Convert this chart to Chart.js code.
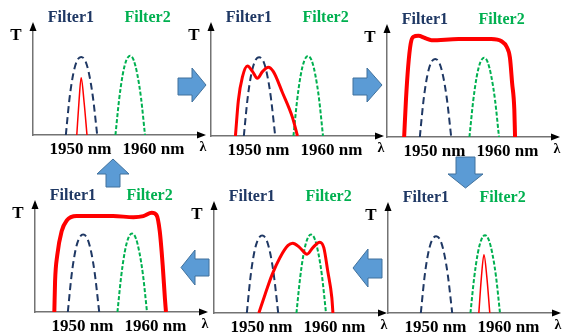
<!DOCTYPE html>
<html>
<head>
<meta charset="utf-8">
<script src="https://cdn.jsdelivr.net/npm/chart.js@4.4.0/dist/chart.umd.min.js"></script>
<style>
  body { margin:0; background:#fff; }
  #wrap { position:relative; width:567px; height:335px; overflow:hidden; }
  #wrap canvas { position:absolute; }
  #arrows { position:absolute; left:0; top:0; z-index:5; }
</style>
</head>
<body>
<div id="wrap">
<svg id="arrows" width="567" height="335">
  <g fill="#5b9bd5" stroke="#41719c" stroke-width="1">
    <polygon points="178,78 192,78 192,68 206,85 192,102 192,95 178,95"/>
    <polygon points="353,78 367,78 367,68 382,85 367,102 367,95 353,95"/>
    <polygon points="456,157 475,157 475,174 483,174 465.5,188 448,174 456,174"/>
    <polygon points="382,259 368,259 368,249 353,268 368,287 368,278 382,278"/>
    <polygon points="209,259 195,259 195,250 181,267.5 195,285 195,276 209,276"/>
    <polygon points="113,159 129,174 120,174 120,187 106,187 106,174 97,174"/>
  </g>
</svg>
</div>
<script>
// wavelength axis (nm) and ticks
var xMin = 1943.5, xMax = 1966.8;
var tickNm = [1950, 1960];
var tickLabels = ['1950 nm', '1960 nm'];
var filterNames = ['Filter1', 'Filter2'];
var filterLabelNm = [1948.7, 1959.2];

// filter transmission curves (same in every panel)
var filter1Nm = [1948.0, 1948.5, 1949.0, 1949.5, 1950.1, 1950.7, 1951.2, 1951.7, 1952.3];
var filter1T  = [0, 0.33, 0.55, 0.67, 0.71, 0.67, 0.55, 0.35, 0];
var filter2Nm = [1954.8, 1955.3, 1955.8, 1956.3, 1956.8, 1957.3, 1957.8, 1958.3, 1958.85];
var filter2T  = [0, 0.32, 0.55, 0.68, 0.72, 0.68, 0.55, 0.34, 0];

// red spectrum in each panel
var redNm1 = [1949.5, 1949.8, 1950.1, 1950.5, 1950.9];
var redT1  = [0, 0.3, 0.52, 0.3, 0];
var redNm2 = [1946.85, 1947.25, 1947.8, 1948.5, 1949.2, 1949.85, 1950.55, 1951.35, 1952.05, 1953.3, 1954.65, 1955.35];
var redT2  = [0, 0.32, 0.53, 0.63, 0.58, 0.52, 0.58, 0.62, 0.58, 0.39, 0.17, 0];
var redNm3 = [1945.85, 1946.1, 1946.4, 1946.75, 1947.1, 1947.8, 1948.7, 1949.6, 1953.3, 1957.8, 1959.2, 1959.9, 1960.35, 1960.65, 1960.95, 1961.05];
var redT3  = [0, 0.34, 0.64, 0.85, 0.91, 0.92, 0.9, 0.88, 0.89, 0.89, 0.87, 0.82, 0.72, 0.49, 0.25, 0];
var redNm4 = [1946.15, 1946.25, 1946.55, 1947.15, 1947.85, 1949.2, 1951.5, 1954.2, 1957.0, 1958.35, 1959.5, 1960.15, 1960.6, 1961.0, 1961.3, 1961.45];
var redT4  = [0, 0.28, 0.52, 0.74, 0.84, 0.88, 0.88, 0.88, 0.87, 0.88, 0.91, 0.89, 0.74, 0.43, 0.13, 0];
var redNm5 = [1949.65, 1950.5, 1951.45, 1952.55, 1953.65, 1954.3, 1955.25, 1956.25, 1957.05, 1958.0, 1958.55, 1959.1, 1959.65, 1959.8];
var redT5  = [0, 0.17, 0.35, 0.51, 0.62, 0.64, 0.60, 0.54, 0.60, 0.65, 0.60, 0.38, 0.14, 0];
var redNm6 = [1955.95, 1956.3, 1956.65, 1957.05, 1957.45];
var redT6  = [0, 0.33, 0.54, 0.33, 0];

function pts(xs, ys) {
  return xs.map(function (x, i) { return { x: x, y: ys[i] }; });
}

// where each panel's axes sit on the page
var panels = [
  { left: 33,  top: 25,  bottom: 135, nm: redNm1, t: redT1, lw: 1.5 },
  { left: 211, top: 25,  bottom: 136, nm: redNm2, t: redT2, lw: 3 },
  { left: 387, top: 27,  bottom: 137, nm: redNm3, t: redT3, lw: 4 },
  { left: 35,  top: 203, bottom: 312, nm: redNm4, t: redT4, lw: 4 },
  { left: 214, top: 204, bottom: 313, nm: redNm5, t: redT5, lw: 3 },
  { left: 388, top: 205, bottom: 313, nm: redNm6, t: redT6, lw: 1.5 }
];
var axisLen = 170;
var serif = '"Liberation Serif", "Times New Roman", serif';

var deco = {
  id: 'deco',
  afterDraw: function (chart) {
    var ctx = chart.ctx, a = chart.chartArea, sx = chart.scales.x;
    ctx.save();
    ctx.fillStyle = '#000';
    ctx.beginPath();
    ctx.moveTo(a.left, a.top - 3);
    ctx.lineTo(a.left - 3.5, a.top + 6);
    ctx.lineTo(a.left + 3.5, a.top + 6);
    ctx.fill();
    ctx.beginPath();
    ctx.moveTo(a.right + 3, a.bottom);
    ctx.lineTo(a.right - 6, a.bottom - 3.5);
    ctx.lineTo(a.right - 6, a.bottom + 3.5);
    ctx.fill();
    ctx.textAlign = 'center';
    ctx.textBaseline = 'middle';
    ctx.font = 'bold 17px ' + serif;
    ctx.fillText('T', a.left - 17, a.top + 11);
    ctx.font = 'bold 14px ' + serif;
    ctx.fillText('\u03bb', a.right, a.bottom + 12);
    ctx.font = 'bold 16px ' + serif;
    ctx.fillStyle = '#1f3864';
    ctx.fillText(filterNames[0], sx.getPixelForValue(filterLabelNm[0]), a.top - 7);
    ctx.fillStyle = '#00b050';
    ctx.fillText(filterNames[1], sx.getPixelForValue(filterLabelNm[1]), a.top - 7);
    ctx.restore();
  }
};

var wrap = document.getElementById('wrap');
panels.forEach(function (p) {
  var c = document.createElement('canvas');
  var w = 25 + axisLen + 14, h = 25 + (p.bottom - p.top) + 25 + 10;
  c.width = w; c.height = h;
  c.style.left = (p.left - 25) + 'px';
  c.style.top = (p.top - 25) + 'px';
  wrap.insertBefore(c, document.getElementById('arrows'));

  new Chart(c, {
    type: 'line',
    data: {
      datasets: [
        { data: pts(p.nm, p.t), borderColor: '#ff0000', borderWidth: p.lw, order: 0 },
        { data: pts(filter1Nm, filter1T), borderColor: '#1f3864', borderWidth: 2, borderDash: [7, 4], order: 1 },
        { data: pts(filter2Nm, filter2T), borderColor: '#00b050', borderWidth: 2, borderDash: [4, 2], order: 2 }
      ]
    },
    options: {
      responsive: false,
      animation: false,
      layout: { padding: { left: 25, top: 25, right: 14, bottom: 10 } },
      elements: {
        point: { radius: 0 },
        line: { cubicInterpolationMode: 'monotone', fill: false }
      },
      plugins: { legend: { display: false }, tooltip: { enabled: false } },
      scales: {
        x: {
          type: 'linear', min: xMin, max: xMax,
          grid: { display: false, drawTicks: false },
          border: { display: true, color: '#737373', width: 1.5 },
          afterBuildTicks: function (s) { s.ticks = tickNm.map(function (v) { return { value: v }; }); },
          afterFit: function (s) { s.height = 25; },
          ticks: {
            autoSkip: false, maxRotation: 0, padding: 4, color: '#000',
            font: { family: serif, size: 17, weight: 'bold' },
            callback: function (v) { return tickLabels[tickNm.indexOf(v)]; }
          }
        },
        y: {
          min: 0, max: 1,
          grid: { display: false, drawTicks: false },
          border: { display: true, color: '#737373', width: 1.5 },
          ticks: { display: false },
          afterFit: function (s) { s.width = 0; }
        }
      }
    },
    plugins: [deco]
  });
});
</script>
</body>
</html>
